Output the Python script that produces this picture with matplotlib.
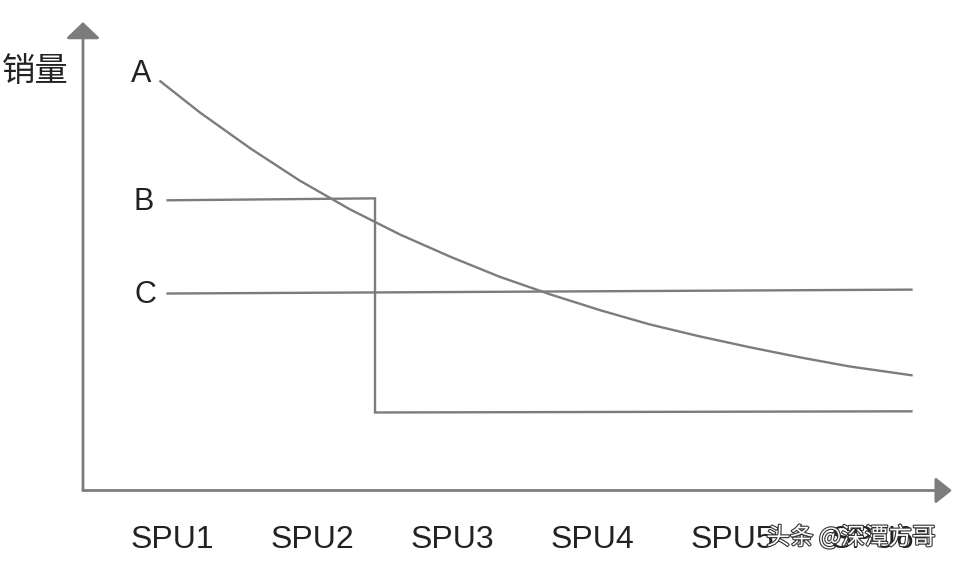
import matplotlib.pyplot as plt
import matplotlib.patheffects as pe

plt.rcParams['font.family'] = ['Liberation Sans', 'Noto Sans CJK SC', 'DejaVu Sans']

# x positions in "SPU" units, y in sales units
spu_labels = ['SPU1', 'SPU2', 'SPU3', 'SPU4', 'SPU5', 'SPU6']
spu_pos = [1, 2, 3, 4, 5, 6]

a_x = [0.91, 1.2, 1.56, 1.91, 2.27, 2.63, 2.99, 3.34, 3.7, 4.06, 4.41, 4.77, 5.13, 5.49, 5.84, 6.29]
a_y = [105.1, 96.9, 87.7, 79.5, 72.1, 65.6, 59.9, 54.8, 50.3, 46.2, 42.6, 39.5, 36.7, 34.1, 31.8, 29.5]

b_x = [0.96, 2.45, 2.45, 6.29]
b_y = [74.4, 74.9, 20.0, 20.3]

c_x = [0.96, 6.29]
c_y = [50.5, 51.5]

line_labels = ['A', 'B', 'C']
label_x = [0.78, 0.80, 0.81]
label_y = [106.8, 74.0, 50.2]

gray = '#7c7c7c'
txt = '#222222'

fig = plt.figure(figsize=(9.56, 5.63), dpi=100)
ax = fig.add_axes([0.0868, 0.1288, 0.909, 0.832])
ax.set_xlim(0.364, 6.571)
ax.set_ylim(0, 120.1)

for s in ax.spines.values():
    s.set_visible(False)

ax.plot(a_x, a_y, color=gray, lw=1.7, solid_capstyle='butt')
ax.plot(b_x, b_y, color=gray, lw=1.7, solid_capstyle='butt', solid_joinstyle='miter')
ax.plot(c_x, c_y, color=gray, lw=1.7, solid_capstyle='butt')

for lab, lx, ly in zip(line_labels, label_x, label_y):
    ax.text(lx, ly, lab, ha='center', va='center', fontsize=22, color=txt)

# axes with arrow heads
ax.annotate('', xy=(1, 0), xytext=(0, 0), xycoords='axes fraction',
            arrowprops=dict(arrowstyle='-|>,head_length=1.0,head_width=0.8',
                            mutation_scale=10, color=gray, lw=2, shrinkA=0, shrinkB=0))
ax.annotate('', xy=(0, 1), xytext=(0, 0), xycoords='axes fraction',
            arrowprops=dict(arrowstyle='-|>,head_length=1.0,head_width=1.05',
                            mutation_scale=10, color=gray, lw=2, shrinkA=0, shrinkB=0))

ax.set_xticks(spu_pos, spu_labels)
ax.tick_params(axis='x', length=0, pad=25, labelsize=23, labelcolor=txt)
ax.set_yticks([])

fig.text(35 / 956, 1 - 72 / 563, '销量', ha='center', va='center', fontsize=24,
         color=txt, family=['Noto Sans CJK SC', 'DejaVu Sans'])

# watermark
fig.text(851 / 956, 1 - 537 / 563, '头条 @深潭方哥', ha='center', va='center', fontsize=17,
         color='white', family=['Noto Sans CJK SC', 'DejaVu Sans'],
         path_effects=[pe.withStroke(linewidth=1.6, foreground='#333333')])

fig.savefig('out.png', dpi=100)
